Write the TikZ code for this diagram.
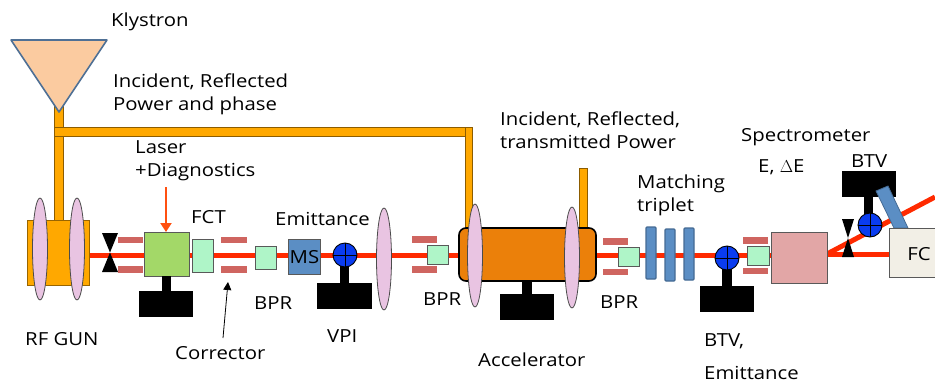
\documentclass[tikz,border=0pt]{standalone}
\usepackage{fontspec}
\setmainfont[FakeStretch=1.13]{Open Sans}
\usetikzlibrary{shapes.geometric,arrows.meta}
\definecolor{beamred}{HTML}{FF2A00}
\definecolor{feed}{HTML}{FFA800}
\definecolor{lensc}{HTML}{E9C4E2}
\definecolor{corr}{HTML}{CF6560}
\definecolor{mint}{HTML}{AFF5C8}
\definecolor{leaf}{HTML}{A3D868}
\definecolor{steel}{HTML}{5B8EC4}
\definecolor{accel}{HTML}{EB800A}
\definecolor{rose}{HTML}{E2A6A6}
\definecolor{cream}{HTML}{F2EFE6}
\definecolor{klyfill}{HTML}{FBCBA0}
\definecolor{klyline}{HTML}{4F7095}
\definecolor{ball}{HTML}{0A3CF0}
\definecolor{laserarrow}{HTML}{FF5010}
\tikzset{
  x=1pt,y=-1pt,
  txt/.style={anchor=west,inner sep=0pt,font=\fontsize{18}{23}\selectfont,align=left},
  boxed/.style={rectangle,fill=#1,draw=black!65,line width=0.9pt,inner sep=0pt,outer sep=0pt},
  feedbox/.style={rectangle,draw=feed!60!black,fill=feed,line width=0.6pt,inner sep=0pt,outer sep=0pt},
  feedline/.style={rectangle,fill=feed,draw=feed!55!black,line width=0.6pt,inner sep=0pt,outer sep=0pt},
  corrbar/.style={rectangle,fill=corr,inner sep=0pt,outer sep=0pt},
  standblk/.style={rectangle,fill=black,inner sep=0pt,outer sep=0pt},
  lens/.style={ellipse,fill=lensc,draw=black!70,line width=0.8pt,inner sep=0pt,outer sep=0pt},
  beam/.style={draw=beamred,line width=5pt},
  tripq/.style={rectangle,fill=steel,draw=steel!75!black,line width=1.2pt,rounded corners=1pt,inner sep=0pt,outer sep=0pt},
}
\newcommand{\bx}[6]{\pgfmathsetmacro{\bxw}{#4-#2}\pgfmathsetmacro{\bxh}{#5-#3}%
  \node[#6,minimum width=\bxw pt,minimum height=\bxh pt] (#1) at ({(#2+#4)/2},{(#3+#5)/2}) {};}
\newcommand{\lensat}[4]{\pgfmathsetmacro{\bxh}{#4-#3}%
  \node[lens,minimum width=15pt,minimum height=\bxh pt] (#1) at (#2,{(#3+#4)/2}) {};}
\newcommand{\scr}[3]{\node[circle,fill=ball,draw=black,line width=0.9pt,minimum size=24pt,inner sep=0pt] (#1) at (#2,#3) {};
  \draw[line width=0.8pt] (#1.west) -- (#1.east) (#1.north) -- (#1.south);}
\newcommand{\valve}[5]{\fill[black] (#2,#3) -- (#4,#3) -- (#2,#5) -- (#4,#5) -- cycle;\coordinate (#1) at ({(#2+#4)/2},{(#3+#5)/2});}
\begin{document}
\begin{tikzpicture}
\useasboundingbox (0,0) rectangle (935,383);
% RF feed lines
\bx{feedV}{54}{105}{63}{221}{feedline}
\bx{feedH}{54}{127}{472}{136}{feedline}
\bx{feedA}{465}{127}{472}{230}{feedline}
\bx{feedB}{579}{168}{587}{230}{feedline}
\fill[feed] (466,128) rectangle (471,136);
% Klystron
\draw[fill=klyfill,draw=klyline,line width=1.6pt,line join=round] (11,40) -- (107,40) -- (59,112) -- cycle;
% Beam lines
\coordinate (b0) at (89,255);
\coordinate (b1) at (771,255);
\coordinate (b2) at (827,254);
\coordinate (b3) at (889,254);
\coordinate (b4) at (935,197);
\draw[beam] (b0) -- (b1);
\draw[beam] (b2) -- (b3);
\draw[beam] (b2) -- (b4);
% Gun
\bx{gun}{27}{220}{89}{285}{feedbox}
\lensat{g1}{40}{198}{300}
\lensat{g2}{77}{198}{300}
\valve{v1}{102}{233}{118}{272}
\bx{c1a}{118}{237}{143}{243}{corrbar}
\bx{c1b}{118}{266}{143}{273}{corrbar}
\bx{laser}{144}{232}{189}{276}{boxed=leaf}
\bx{n1}{162}{276}{171}{292}{standblk}
\bx{s1}{139}{291}{193}{317}{standblk}
\bx{fct}{192}{239}{213}{272}{boxed=mint}
\bx{c2a}{221}{237}{247}{243}{corrbar}
\bx{c2b}{221}{266}{247}{273}{corrbar}
\bx{bpr1}{255}{246}{276}{269}{boxed=mint}
\bx{ms}{288}{239}{320}{274}{boxed=steel}
\node[txt,anchor=center] (mst) at (304.5,257) {MS};
\bx{n2}{340}{265}{349}{284}{standblk}
\bx{s2}{317}{283}{372}{309}{standblk}
\scr{vpi}{345}{255}
\lensat{l3}{384}{208}{310}
\bx{c3a}{412}{236}{437}{243}{corrbar}
\bx{c3b}{412}{266}{437}{273}{corrbar}
\bx{bpr2}{427}{245}{448}{264}{boxed=mint}
% Accelerator
\bx{n3}{522}{278}{532}{295}{standblk}
\bx{s3}{500}{294}{554}{320}{standblk}
\node[rectangle,fill=accel,draw=black,line width=1.6pt,rounded corners=7pt,minimum width=137pt,minimum height=53pt,inner sep=0pt] (acc) at (527.5,254.5) {};
\lensat{l4}{475}{204}{307}
\lensat{l5}{572}{207}{308}
\bx{c4a}{603}{238}{628}{245}{corrbar}
\bx{c4b}{603}{269}{628}{275}{corrbar}
\bx{bpr3}{618}{247}{639}{266}{boxed=mint}
\bx{q1}{646}{227}{656}{279}{tripq}
\bx{q2}{665}{229}{675}{281}{tripq}
\bx{q3}{684}{228}{694}{280}{tripq}
\bx{n4}{722}{268}{732}{287}{standblk}
\bx{s4}{700}{286}{754}{312}{standblk}
\scr{btv1}{727}{258}
\bx{c5a}{743}{237}{768}{244}{corrbar}
\bx{c5b}{743}{268}{768}{274}{corrbar}
\bx{bpr4}{747}{246}{769}{265}{boxed=mint}
\bx{dip}{771}{232}{827}{283}{boxed=rose}
\valve{v2}{842}{219}{854}{257}
% BTV 2
\bx{s5}{842}{171}{896}{197}{standblk}
\bx{n5}{864}{196}{873}{216}{standblk}
\scr{btv2}{870}{225}
\fill[steel,draw=steel!75!black,line width=0.8pt] (876,191) -- (888,186) -- (908,228) -- (894,228) -- cycle;
\bx{fc}{889}{228}{945}{277}{boxed=cream}
\node[txt,anchor=center] (fct2) at (919,254) {FC};
% Arrows
\coordinate (laserT) at (166,187);
\draw[-{Triangle[length=9pt,width=11pt]},color=laserarrow,line width=2pt] (laserT) -- (laser.north -| laserT);
\node[txt] (tklys) at (111,22) {Klystron};
\node[txt] (tinc) at (113,94) {Incident, Reflected\\Power and phase};
\node[txt] (tlas) at (135,161) {Laser\\+Diagnostics};
\node[txt] (tfct) at (191,217) {FCT};
\node[txt] (temi) at (275,219) {Emittance};
\node[txt] (tbpr1) at (254,303) {BPR};
\node[txt] (tgun) at (25,339) {RF GUN};
\node[txt] (tcor) at (175,353) {Corrector};
\node[txt] (tvpi) at (327,336) {VPI};
\node[txt] (tbpr2) at (423,299) {BPR};
\node[txt] (tacc) at (478,360) {Accelerator};
\node[txt] (tinc2) at (500,130) {Incident, Reflected,\\transmitted Power};
\node[txt] (tbpr3) at (600,302) {BPR};
\node[txt] (tmat) at (637,195) {Matching\\triplet};
\node[txt] (tspe) at (741,137) {Spectrometer};
\node[txt] (tde) at (758,167) {E, $\Delta$E};
\node[txt] (tbtv2) at (851,161) {BTV};
\node[txt] (tbtv1) at (704,341) {BTV,};
\node[txt] (temi2) at (704,373) {Emittance};
\coordinate (corrTip) at (228,282);
\coordinate (corrTail) at (223,338);
\draw[-{Triangle[length=8pt,width=8pt]},line width=0.8pt] (corrTail) -- (corrTip);
\end{tikzpicture}
\end{document}
